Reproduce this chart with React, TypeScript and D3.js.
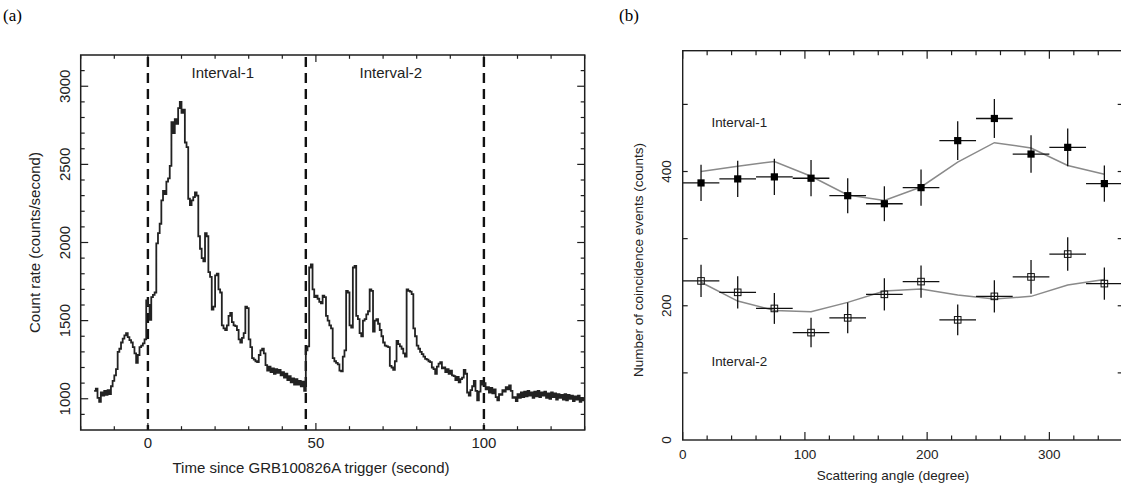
import React from "react";
import * as d3 from "d3";

// (a) light curve, count rate per 0.5 s bin, first bin starts at t = -16 s
const lcStart = -16;
const lcBin = 0.5;
const lcRate = [
  1050, 1065, 1005, 980, 1040, 1020, 1050, 1025, 1055, 1030,
  1080, 1115, 1150, 1190, 1300, 1320, 1360, 1385, 1405, 1420,
  1395, 1375, 1360, 1330, 1290, 1230, 1280, 1330, 1340, 1355,
  1380, 1630, 1600, 1505, 1650, 1665, 1680, 1995, 2060, 2120,
  2270, 2330, 2310, 2390, 2410, 2490, 2770, 2700, 2790, 2760,
  2860, 2900, 2830, 2850, 2640, 2610, 2280, 2240, 2270, 2290,
  2320, 2300, 2040, 1960, 1900, 1880, 2060, 2040, 1810, 1780,
  1570, 1590, 1790, 1800, 1700, 1680, 1470, 1450, 1440, 1470,
  1530, 1550, 1490, 1470, 1465, 1440, 1380, 1360, 1390, 1420,
  1590, 1580, 1380, 1330, 1260, 1250, 1240, 1235, 1280, 1310,
  1320, 1290, 1215, 1180, 1205, 1170, 1195, 1160, 1190, 1165,
  1185, 1150, 1170, 1135, 1160, 1120, 1145, 1105, 1130, 1090,
  1125, 1090, 1115, 1080, 1110, 1050, 1310, 1335, 1840, 1860,
  1700, 1650, 1660, 1640, 1620, 1610, 1660, 1650, 1530, 1500,
  1470, 1450, 1260, 1240, 1230, 1220, 1180, 1175, 1270, 1310,
  1690, 1680, 1470, 1455, 1840, 1850, 1530, 1510, 1420, 1400,
  1500, 1510, 1540, 1560, 1700, 1690, 1430, 1500, 1510, 1480,
  1440, 1400, 1360, 1340, 1335, 1330, 1210, 1200, 1185, 1240,
  1370, 1350, 1335, 1320, 1290, 1270, 1700, 1690, 1685, 1670,
  1450, 1400, 1340, 1320, 1300, 1285, 1270, 1255, 1250, 1240,
  1235, 1200, 1190, 1160, 1205, 1225, 1235, 1195, 1200, 1170,
  1190, 1160, 1180, 1150, 1145, 1120, 1140, 1105, 1125, 1135,
  1185, 1160, 1040, 1020, 1055, 1080, 1115, 1050, 990, 1045,
  1115, 1090, 1100, 1060, 1075, 1040, 1070, 1035, 1060, 1010,
  990, 1030, 1025, 1055, 1045, 1075, 1060, 1085, 1050, 1005,
  1010, 985, 1030, 1005, 1040, 1010, 1045, 1015, 1050, 1020,
  1040, 1005, 1045, 1015, 1050, 1010, 1040, 1020, 1045, 1005,
  1035, 1000, 1040, 1010, 1035, 995, 1030, 1005, 1025, 995,
  1030, 990, 1025, 1000, 1020, 985, 1015, 995, 1020, 980, 1005, 990,
];

const intervalEdges = [0, 47, 100];
const intervalNames = ["Interval-1", "Interval-2"];
const timeTickLabels = [0, 50, 100];
const rateTickLabels = [1000, 1500, 2000, 2500, 3000];

// (b) modulation curves, 30 degree bins
const angles = [15, 45, 75, 105, 135, 165, 195, 225, 255, 285, 315, 345];
const int1Counts = [383, 389, 392, 390, 364, 352, 376, 446, 479, 426, 436, 382];
const int1Err = [27, 27, 27, 27, 26, 26, 27, 29, 29, 28, 28, 27];
const int1Model = [400, 408, 415, 393, 365, 357, 377, 414, 443, 435, 409, 396];
const int2Counts = [237, 220, 196, 160, 182, 217, 236, 179, 214, 243, 277, 233];
const int2Err = [24, 24, 23, 22, 23, 24, 24, 23, 24, 25, 25, 24];
const int2Model = [235, 207, 193, 191, 205, 222, 225, 216, 210, 214, 231, 239];
const angleTickLabels = [0, 100, 200, 300];
const countTickLabels = [0, 200, 400];

const sans = "'Liberation Sans', Arial, sans-serif";
const ink = "#1e1e1e";

export default function App() {
  // panel (a)
  const xa = d3.scaleLinear().domain([-20, 130]).range([80.7, 584.7]);
  const ya = d3.scaleLinear().domain([800, 3200]).range([430, 55]);

  const lcPoints: [number, number][] = lcRate.map((v, i) => [lcStart + i * lcBin, v]);
  lcPoints.push([lcStart + lcRate.length * lcBin, lcRate[lcRate.length - 1]]);
  const lcLine = d3
    .line<[number, number]>()
    .x((d) => xa(d[0]))
    .y((d) => ya(d[1]))
    .curve(d3.curveStepAfter);

  const [ax0, ax1] = xa.range();
  const [ay0, ay1] = ya.range();

  // panel (b)
  const xb = d3.scaleLinear().domain([0, 360]).range([682.7, 1122.7]);
  const yb = d3.scaleLinear().domain([0, 580]).range([440, 50.7]);
  const [bx0, bx1] = xb.range();
  const [by0, by1] = yb.range();

  const modelLine = d3
    .line<number>()
    .x((_, i) => xb(angles[i]))
    .y((d) => yb(d));

  const errBars = (counts: number[], errs: number[]) =>
    counts.map((c, i) => (
      <g key={i} stroke="#111" strokeWidth={1.3}>
        <line x1={xb(angles[i] - 15)} x2={xb(angles[i] + 15)} y1={yb(c)} y2={yb(c)} />
        <line x1={xb(angles[i])} x2={xb(angles[i])} y1={yb(c - errs[i])} y2={yb(c + errs[i])} />
      </g>
    ));

  return (
    <svg
      width={1121}
      height={489}
      style={{ position: "absolute", left: 0, top: 0, background: "#fff" }}
    >
      {/* ---------- (a) ---------- */}
      <text x={3} y={21} fontFamily="'Liberation Serif', 'DejaVu Serif', serif" fontSize={17}>
        (a)
      </text>

      {/* ticks */}
      <g stroke={ink} strokeWidth={1.2}>
        {d3.range(-20, 131, 10).map((t) => {
          const len = t % 50 === 0 ? 7 : 3.8;
          return (
            <g key={"xa" + t}>
              <line x1={xa(t)} x2={xa(t)} y1={ay0} y2={ay0 - len} />
              <line x1={xa(t)} x2={xa(t)} y1={ay1} y2={ay1 + len} />
            </g>
          );
        })}
        {d3.range(900, 3200, 100).map((v) => {
          const len = v % 500 === 0 ? 7.5 : 4;
          return (
            <g key={"ya" + v}>
              <line x1={ax0} x2={ax0 + len} y1={ya(v)} y2={ya(v)} />
              <line x1={ax1} x2={ax1 - len} y1={ya(v)} y2={ya(v)} />
            </g>
          );
        })}
      </g>

      {/* interval boundaries */}
      {intervalEdges.map((t) => (
        <line
          key={"d" + t}
          x1={xa(t)}
          x2={xa(t)}
          y1={ay1 + 2}
          y2={ay0}
          stroke="#111"
          strokeWidth={2.4}
          strokeDasharray="10,6"
        />
      ))}

      <path d={lcLine(lcPoints) ?? ""} fill="none" stroke="#222" strokeWidth={1.8} />

      <rect
        x={ax0}
        y={ay1}
        width={ax1 - ax0}
        height={ay0 - ay1}
        fill="none"
        stroke={ink}
        strokeWidth={1.5}
      />

      {intervalNames.map((name, i) => (
        <text
          key={name}
          x={xa((intervalEdges[i] + intervalEdges[i + 1]) / 2 - 1.2)}
          y={ya(3050)}
          fontFamily={sans}
          fontSize={15}
          textAnchor="middle"
          fill="#222"
        >
          {name}
        </text>
      ))}

      {timeTickLabels.map((t) => (
        <text key={"xl" + t} x={xa(t)} y={448} fontFamily={sans} fontSize={15} textAnchor="middle" fill="#222">
          {t}
        </text>
      ))}
      {rateTickLabels.map((v) => (
        <text
          key={"yl" + v}
          transform={`translate(70,${ya(v)}) rotate(-90)`}
          fontFamily={sans}
          fontSize={15}
          textAnchor="middle"
          fill="#222"
        >
          {v}
        </text>
      ))}
      <text x={311} y={473} fontFamily={sans} fontSize={15} textAnchor="middle" fill="#222">
        Time since GRB100826A trigger (second)
      </text>
      <text
        transform={`translate(40,${(ay0 + ay1) / 2}) rotate(-90)`}
        fontFamily={sans}
        fontSize={15}
        textAnchor="middle"
        fill="#222"
      >
        Count rate (counts/second)
      </text>

      {/* ---------- (b) ---------- */}
      <text x={619} y={21} fontFamily="'Liberation Serif', 'DejaVu Serif', serif" fontSize={17}>
        (b)
      </text>

      <g stroke={ink} strokeWidth={1.2}>
        {d3.range(0, 361, 20).map((a) => {
          const len = a % 100 === 0 ? 8 : 4.5;
          return (
            <g key={"xb" + a}>
              <line x1={xb(a)} x2={xb(a)} y1={by0} y2={by0 - len} />
              <line x1={xb(a)} x2={xb(a)} y1={by1} y2={by1 + len} />
            </g>
          );
        })}
        {d3.range(100, 580, 100).map((v) => (
          <g key={"yb" + v}>
            <line x1={bx0} x2={bx0 + 5} y1={yb(v)} y2={yb(v)} />
            <line x1={bx1} x2={bx1 - 5} y1={yb(v)} y2={yb(v)} />
          </g>
        ))}
      </g>

      <path d={modelLine(int1Model) ?? ""} fill="none" stroke="#8a8a8a" strokeWidth={1.5} />
      <path d={modelLine(int2Model) ?? ""} fill="none" stroke="#8a8a8a" strokeWidth={1.5} />

      {errBars(int1Counts, int1Err)}
      {errBars(int2Counts, int2Err)}

      {int1Counts.map((c, i) => (
        <rect key={"f" + i} x={xb(angles[i]) - 3.6} y={yb(c) - 3.6} width={7.2} height={7.2} fill="#000" />
      ))}
      {int2Counts.map((c, i) => (
        <rect
          key={"o" + i}
          x={xb(angles[i]) - 3.3}
          y={yb(c) - 3.3}
          width={6.6}
          height={6.6}
          fill="none"
          stroke="#111"
          strokeWidth={1}
        />
      ))}

      <rect
        x={bx0}
        y={by1}
        width={bx1 - bx0}
        height={by0 - by1}
        fill="none"
        stroke={ink}
        strokeWidth={1.4}
      />

      <text x={xb(23.5)} y={yb(466)} fontFamily={sans} fontSize={13.4} fill="#222">
        Interval-1
      </text>
      <text x={xb(23.5)} y={yb(110)} fontFamily={sans} fontSize={13.4} fill="#222">
        Interval-2
      </text>

      {angleTickLabels.map((a) => (
        <text key={"bl" + a} x={xb(a)} y={459} fontFamily={sans} fontSize={13.5} textAnchor="middle" fill="#222">
          {a}
        </text>
      ))}
      {countTickLabels.map((v) => (
        <text
          key={"bc" + v}
          transform={`translate(670.5,${yb(v)}) rotate(-90)`}
          fontFamily={sans}
          fontSize={13.5}
          textAnchor="middle"
          fill="#222"
        >
          {v}
        </text>
      ))}
      <text x={893} y={480} fontFamily={sans} fontSize={13.5} textAnchor="middle" fill="#222">
        Scattering angle (degree)
      </text>
      <text
        transform={`translate(643,260) rotate(-90)`}
        fontFamily={sans}
        fontSize={13.5}
        textAnchor="middle"
        fill="#222"
      >
        Number of coincidence events (counts)
      </text>
    </svg>
  );
}
